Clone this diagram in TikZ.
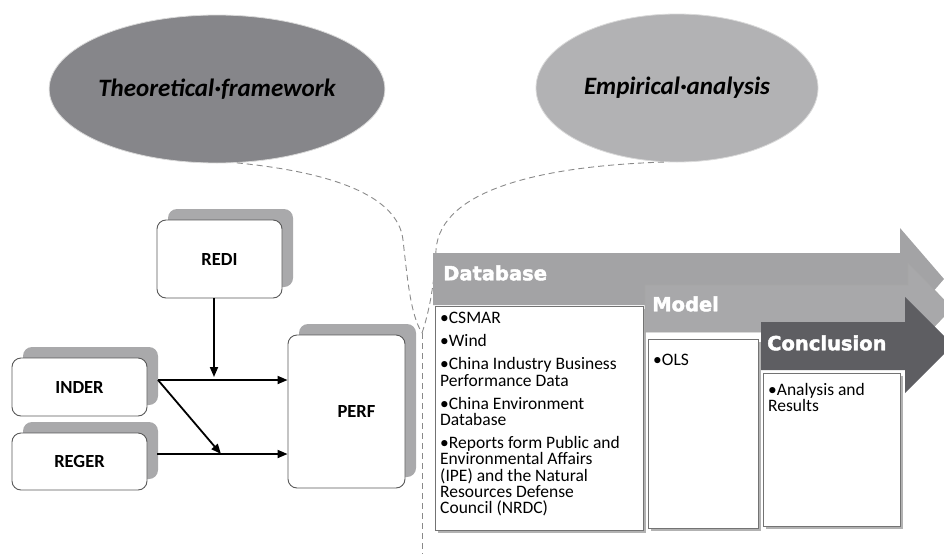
\documentclass[tikz,border=0pt]{standalone}
\usepackage{fontspec}
\setmainfont{Carlito}
\newfontfamily\headfont[BoldFeatures={FakeBold=2.2}]{DejaVu Sans}
\usetikzlibrary{shapes.geometric,arrows.meta,shadows}
\definecolor{theo}{HTML}{86868A}
\definecolor{emp}{HTML}{B2B2B4}
\definecolor{shad}{HTML}{A9A9AB}
\definecolor{dbarr}{HTML}{A3A3A5}
\definecolor{mdarr}{HTML}{A8A8AA}
\definecolor{cnarr}{HTML}{5E5E62}
\definecolor{dashc}{HTML}{8A8A8A}
\tikzset{
  oval/.style={ellipse, draw=white!85!black, line width=0.8pt, inner sep=0pt,
    font=\fontsize{25}{28}\selectfont\bfseries\itshape},
  varbox/.style={draw=black!65, line width=0.9pt, fill=white, rounded corners=9pt,
    font=\fontsize{18.5}{20}\selectfont\bfseries, inner sep=0pt,
    general shadow={fill=shad, shadow xshift=11pt, shadow yshift=11pt}},
  conn/.style={line width=1.8pt, -{Triangle[length=10pt,width=8pt]}},
  dashline/.style={draw=dashc, line width=0.9pt, dash pattern=on 6pt off 4pt},
  listbox/.style={draw=black!55, line width=0.8pt, fill=white,
    general shadow={fill=black!30, shadow xshift=2.5pt, shadow yshift=-2.5pt}},
  listtext/.style={anchor=north west, inner sep=0pt, align=left,
    font=\fontsize{17.5}{16.2}\selectfont},
  headtext/.style={anchor=west, inner sep=0pt, text=white,
    font=\headfont\fontsize{19.5}{21}\selectfont\bfseries},
}
\begin{document}
\begin{tikzpicture}[x=1pt,y=-1pt]
\useasboundingbox (0,0) rectangle (944,554);
\begin{scope}
\clip (0,0) rectangle (944,554);
% ellipses
\node[oval, fill=theo, minimum width=292pt, minimum height=148pt] (theo) at (217,89) {Theoretical·framework};
\node[oval, fill=emp, minimum width=282pt, minimum height=148pt] (emp) at (677,88) {Empirical·analysis};
% dashed curves
\coordinate (meet) at (422,333);
\coordinate (bottom) at (422,554);
\draw[dashline] (theo.-75) .. controls (330,172) and (398,195) .. (403,240)
   .. controls (408,285) and (411,315) .. (meet);
\draw[dashline] (emp.-100) .. controls (540,166) and (440,190) .. (436,250)
   .. controls (434,290) and (428,315) .. (meet);
\draw[dashline] (meet) -- (bottom);
% left diagram
\node[varbox, minimum width=125pt, minimum height=78pt] (redi) at (219.5,259) {REDI};
\node[varbox, minimum width=135pt, minimum height=58pt] (inder) at (79.5,387) {INDER};
\node[varbox, minimum width=135pt, minimum height=57pt] (reger) at (79.5,461.5) {REGER};
\node[varbox, minimum width=117pt, minimum height=153pt] (perf) at (346.5,411.5) {\hspace*{20pt}PERF};
\coordinate (rediout) at (214,298);
\coordinate (redijoin) at (214,377);
\coordinate (inderout) at (158,380);
\coordinate (diagend) at (221,454);
\coordinate (regerout) at (157,454);
\draw[conn] (rediout) -- (redijoin);
\draw[conn] (inderout) -- (perf.west |- inderout);
\draw[conn] (inderout) -- (diagend);
\draw[conn] (regerout) -- (perf.west |- regerout);
% right: process arrows
\fill[dbarr] (433,253) -- (900,253) -- (900,228) -- (944,279) -- (900,330) -- (900,305) -- (433,305) -- cycle;
\node[headtext] (dbhead) at (443,273) {Database};
\node[listbox, minimum width=208pt, minimum height=224pt, anchor=north west] (dbbox) at (435,306) {};
\node[listtext] (dbtext) at (dbbox.north west) [xshift=5pt, yshift=-6pt]
  {•CSMAR\\[7pt]•Wind\\[7pt]•China Industry Business\\Performance Data\\[7pt]•China Environment\\Database\\[7pt]•Reports form Public and\\Environmental Affairs\\(IPE) and the Natural\\Resources Defense\\Council (NRDC)};
\filldraw[fill=mdarr, draw=black!35, line width=0.6pt] (645,285) -- (908,285) -- (908,263) -- (952,308) -- (908,354) -- (908,332) -- (645,332) -- cycle;
\node[headtext] (mdhead) at (652,304) {Model};
\node[listbox, minimum width=110pt, minimum height=189pt, anchor=north west] (mdbox) at (648,339) {};
\node[listtext] (mdtext) at (mdbox.north west) [xshift=5pt, yshift=-15pt] {•OLS};
\fill[cnarr] (761,322) -- (905,322) -- (905,297) -- (953,345) -- (905,393) -- (905,370) -- (761,370) -- cycle;
\node[headtext] (cnhead) at (767,343) {Conclusion};
\node[listbox, minimum width=137pt, minimum height=153pt, anchor=north west] (cnbox) at (763,373) {};
\node[listtext] (cntext) at (cnbox.north west) [xshift=5pt, yshift=-10pt] {•Analysis and\\Results};
\end{scope}
\end{tikzpicture}
\end{document}
